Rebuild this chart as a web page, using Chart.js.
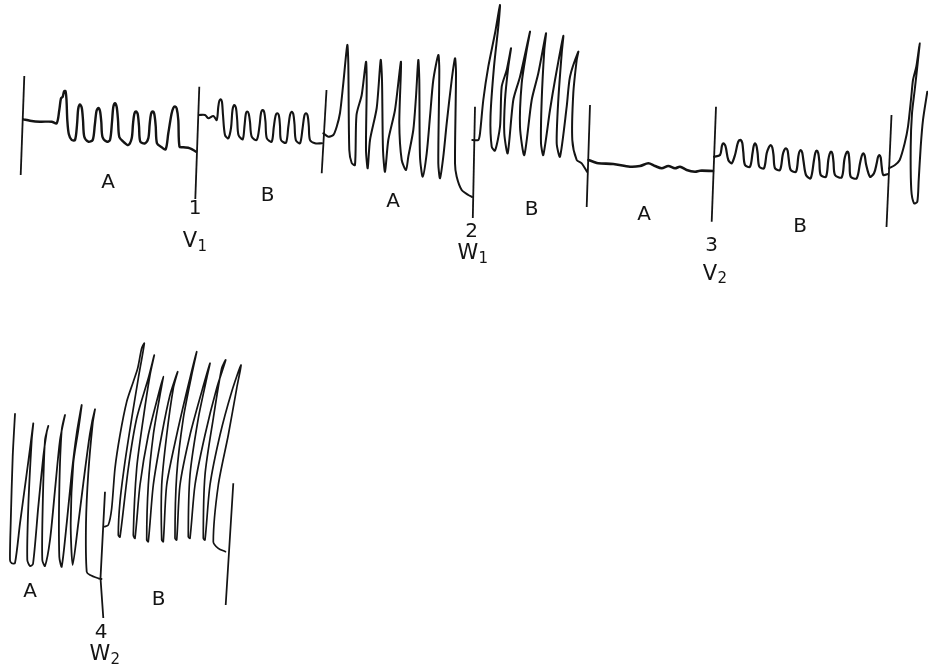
<!DOCTYPE html>
<html>
<head>
<meta charset="utf-8">
<script src="https://cdn.jsdelivr.net/npm/chart.js@4"></script>
<style>
html,body{margin:0;padding:0;background:#fff;}
canvas{display:block;}
</style>
</head>
<body>
<canvas id="c" width="928" height="667"></canvas>
<script>
// Trace readings: [time, pen position] (pen position measured downward)
const topA1 = [[23.3,119.3],[30,120.7],[40,121.7],[51.7,121.7],[56.7,123.3],[59.3,110],[61,98.3],[62.7,96.7],[64,91.5],[65.5,91],[66.5,100],[67.3,120],[68.8,134],[71.7,140],[75,140],[77,125],[78.2,109],[80,104.5],[81.8,108],[83,120],[84.3,136.7],[88.3,141.7],[92.7,140],[94.8,125],[96.5,111],[98.3,108],[100,111],[101.3,122],[102.5,137],[106.7,141.7],[110,140],[112,122],[113.3,107],[115,103.3],[116.7,107],[118,120],[119.3,137],[123.3,141.7],[128.3,145],[131.7,138.3],[133,124],[134.3,114],[136,111.5],[137.7,114],[139,126],[140.3,141.7],[145,143.3],[148.3,138.3],[149.7,124],[151,114],[152.7,111.5],[154.3,114],[155.7,126],[157,143.3],[161.7,147.3],[165.7,149.3],[168.3,133.3],[171.5,114],[173.3,108],[175,106.5],[176.7,108.5],[178.3,120],[179.5,146.7],[183.3,147.3],[190,148.3],[196,151.7]];
const topB1 = [[199,115],[205,115],[208.3,118.3],[213.3,116],[216.7,120],[218.3,106.7],[219.3,101],[220.7,99.3],[222,102],[223,115],[225,135],[228.3,138.3],[231,128],[232.5,110],[234.3,105],[236,108],[237.2,120],[238.5,135],[242.7,139.3],[244.5,126],[245.8,114],[247.3,111.5],[248.8,114],[250,122],[251.7,136.7],[256.7,140],[259.5,126],[261,113],[262.7,110],[264.3,112.5],[265.5,122],[266.8,138.3],[271.7,141.7],[273.8,127],[275.5,116],[277.3,113.3],[279,116],[280,126],[281,140],[286,142.7],[288.3,127],[290,115],[291.7,111.7],[293.3,114],[294.5,124],[295.8,140],[300,143.3],[302.5,129],[304.3,116],[306,113.3],[307.7,116],[308.8,126],[310,140],[315,143.3],[322,143.3]];
const topA2 = [[323.3,133.3],[328.3,136.7],[333.3,135],[336.7,126.7],[340,113],[343.3,83.3],[347.3,45],[348.3,63],[349.3,150],[351.7,163],[355,165],[356.5,115],[361.7,95],[366,61.7],[366.7,85],[366,150],[367.7,168.3],[370,140],[376.7,108],[380.7,60],[382,80],[383,150],[385,171.7],[388.3,140],[395,110],[401,61.7],[399.3,123.3],[401.7,160],[406,170],[408.3,156.7],[413.3,130],[416,96.7],[418.3,60],[419.3,80],[420,156.7],[422.7,176.7],[426.7,153.3],[430,116.7],[433.3,80],[438.3,55],[439.3,70],[438.3,163.3],[440,178.3],[443.3,156.7],[446.7,123.3],[451.7,80],[455,58.3],[456,73],[455,163.3],[456.7,176.7],[461.7,190],[468.3,195],[472,197]];
const topB2 = [[472.3,140],[478.3,140],[480,133.3],[483.3,100],[488.3,66.7],[495,33.3],[500,5],[498.3,26.7],[494,66.7],[490.5,116.7],[491.7,146.7],[495,150.7],[500,126.7],[501.7,86.7],[506.7,70],[511,48.3],[508.3,66.7],[505,100],[504.3,133.3],[507.7,153.3],[513.3,100],[520,76.7],[530,31.7],[526.7,50],[521.7,83.3],[520,126.7],[524.3,155],[531.7,100],[538.3,73.3],[546,33.3],[544.3,50],[541.7,100],[541,143.3],[543.3,155],[550,110],[555,80],[563.3,36],[561.7,53.3],[558.3,100],[556.7,143.3],[560,156.7],[566.7,106.7],[570,76.7],[578.3,51.7],[576.7,60],[573.3,93.3],[572.3,140],[576.7,160],[581.7,163.3],[587,171.7]];
const topA3 = [[588.5,160],[593.3,161.7],[598.3,163.3],[613.3,164],[630,166.7],[640,166],[648.3,163.3],[655,166],[661.7,168.3],[668.3,166],[675,168.3],[680,166.7],[686.7,170],[695,171.7],[700,170.7],[713,171]];
const topB3 = [[714,156.7],[720,155],[722,145.5],[723.3,143.3],[725,145],[726,148.3],[728.3,160],[731.7,163.3],[735,155],[737.5,144],[739,140.5],[740.7,140],[742.3,143],[743.3,152],[745,165],[750,166.7],[752.5,153.3],[753.7,146],[755,143.3],[756.5,146],[757.6,153],[759.3,166.7],[764,168.3],[766.7,153.3],[769,147],[770.7,145],[772.3,147.5],[773.5,155],[775,168.3],[780,170],[782.7,155],[784.3,150],[786,148.3],[787.6,150.5],[788.6,158],[790.7,170],[796,171.7],[798.3,156.7],[799.3,152],[800.7,150],[802.2,152.5],[803.5,161],[806,175],[810.7,178.3],[814,160],[815.3,153],[816.7,150.7],[818.2,153],[819.3,161],[820.7,175],[826,176.7],[828.3,160],[829.6,154],[831,151.7],[832.5,154],[833.5,162],[835,175],[841.7,177.3],[844.3,160],[845.8,154],[847.3,151.7],[848.7,154],[849.6,164],[850.7,176.7],[856.7,178.3],[860,163.3],[861.7,156],[863.3,153.3],[864.8,156],[866,164],[870,176.7],[874,173.3],[876.7,163.3],[878,157],[879.3,155],[880.7,157.5],[881.7,166.7],[883.3,175],[888,174]];
const topEnd = [[889,168.3],[895,165],[899.7,160],[904.7,143.3],[908,126.7],[911.3,96.7],[913,80],[916.3,66.7],[919.7,43.3],[917.3,66.7],[914.7,90],[912,113.3],[910.7,146.7],[911.3,190],[914,203.3],[917.3,201.7],[918.7,180],[920.7,146.7],[923,120],[927.3,91.7]];
const botA = [[15,414],[12.7,456.7],[10.7,523.3],[10,560],[11.7,563.3],[15,563],[20,523.3],[26.3,476.7],[30.7,443.3],[33.3,423.3],[31.7,440],[28.3,506.7],[27.3,560],[30,566],[33,564],[38.3,506.7],[43.3,456.7],[46.7,432],[48.3,426],[45,440],[42.7,506.7],[42.3,560],[45,566],[50,540],[55,490],[60,440],[65,415],[61.7,430],[59.3,490],[59.3,556.7],[61.7,566.7],[66.7,523.3],[71.7,473.3],[76.7,433.3],[81.7,405],[78.3,430],[73.3,463.3],[70.7,523.3],[72.7,565],[78.3,523.3],[83.3,483.3],[90,433.3],[95,409.3],[92.7,423.3],[88.3,473.3],[86,523.3],[86.7,571.7],[90,575],[98.3,578.3],[101.5,579]];
const botB = [[104.3,526.7],[108.3,525],[111.7,508.3],[115,468.3],[120,435],[126.7,401.7],[133.3,381.7],[137.7,368.3],[141.7,348.3],[144.3,343.3],[138.3,378.3],[131.7,418.3],[125,461.7],[120,501.7],[118.3,535],[120,537],[128.3,468.3],[136.7,418.3],[148.3,378.3],[154.3,355],[150,375],[143.3,418.3],[136.7,468.3],[133.3,535],[135,538.3],[140,485],[148.3,435],[158.3,395],[163.3,376.7],[160,395],[153.3,435],[148.3,485],[146.7,540],[148.3,541.7],[153.3,485],[161.7,435],[170,395],[177.7,371.7],[173.3,388.3],[166.7,435],[161.7,485],[161.7,540],[163.3,541.7],[166.7,485],[176.7,435],[188.3,385],[196.7,351.7],[191.7,375],[183.3,418.3],[176.7,475],[175,538.3],[176.7,540],[180,485],[190,435],[201.7,391.7],[210,363.3],[206.7,378.3],[198.3,418.3],[190,475],[188.3,536.7],[190,538.3],[195,485],[205,435],[216.7,388.3],[225.7,360],[221.7,368.3],[213.3,418.3],[205,475],[203.3,538.3],[205,540],[210,485],[220,435],[231.7,391.7],[241,365],[236.7,388.3],[228.3,435],[218.3,485],[213.3,541.7],[218.3,548.3],[225.5,551.7]];

// Injection / section markers (vertical strokes)
const markers = [
  [[24.3,76],[20.7,175]],
  [[199.3,86.7],[195.3,199]],
  [[326.5,90],[321.7,173.3]],
  [[475,106.7],[472.8,218]],
  [[590,105],[586.7,207]],
  [[716,106.7],[711.7,221.7]],
  [[891.5,115],[886.5,227]],
  [[105,491.7],[100.5,578],[103.3,618]],
  [[233.3,483.3],[225.7,605]]
];

// Text labels
const sectionLabels = ['A','B','A','B','A','B','A','B'];
const sectionLabelX = [108,267.5,393,531.5,644,800,30,158.5];
const sectionLabelY = [183,195.5,202,210,215,226.5,591.5,600];
const markerNumbers = ['1','2','3','4'];
const markerNumberX = [195,471.5,711.7,101];
const markerNumberY = [209,232,245.8,633];
const drugLetters = ['V','W','V','W'];
const drugSubs = ['1','1','2','2'];
const drugLabelX = [190,468,710,100];
const drugLabelY = [242,254,274.5,655];

const ink = '#141414';
const traces = [
  {d: topA1, w: 2.4, t: 0.3}, {d: topB1, w: 2.1, t: 0.3}, {d: topA2, w: 2.0, t: 0.25}, {d: topB2, w: 2.0, t: 0.25},
  {d: topA3, w: 2.6, t: 0.3}, {d: topB3, w: 2.2, t: 0.3}, {d: topEnd, w: 2.0, t: 0.25},
  {d: botA, w: 1.8, t: 0.25}, {d: botB, w: 1.7, t: 0.25}
];
const datasets = traces.map(tr => ({
  data: tr.d.map(p => ({x: p[0], y: p[1]})),
  showLine: true, borderColor: ink, borderWidth: tr.w, pointRadius: 0,
  tension: tr.t, borderCapStyle: 'round', borderJoinStyle: 'round', fill: false
}));
markers.forEach(m => datasets.push({
  data: m.map(p => ({x: p[0], y: p[1]})),
  showLine: true, borderColor: ink, borderWidth: 1.8, pointRadius: 0, tension: 0, fill: false
}));

const labelPlugin = {
  id: 'traceLabels',
  afterDatasetsDraw(chart) {
    const {ctx, scales} = chart;
    const sx = scales.x, sy = scales.y;
    ctx.save();
    ctx.fillStyle = ink;
    ctx.textAlign = 'center';
    ctx.textBaseline = 'middle';
    ctx.font = '20px "DejaVu Sans", sans-serif';
    sectionLabels.forEach((t, i) => ctx.fillText(t, sx.getPixelForValue(sectionLabelX[i]), sy.getPixelForValue(sectionLabelY[i])));
    ctx.font = '20px "DejaVu Sans", sans-serif';
    markerNumbers.forEach((t, i) => ctx.fillText(t, sx.getPixelForValue(markerNumberX[i]), sy.getPixelForValue(markerNumberY[i])));
    drugLetters.forEach((t, i) => {
      const px = sx.getPixelForValue(drugLabelX[i]);
      const py = sy.getPixelForValue(drugLabelY[i]);
      ctx.font = '21px "DejaVu Sans", sans-serif';
      ctx.fillText(t, px, py);
      const w = ctx.measureText(t).width;
      ctx.font = '15px "DejaVu Sans", sans-serif';
      ctx.fillText(drugSubs[i], px + w / 2 + 5, py + 5);
    });
    ctx.restore();
  }
};

new Chart(document.getElementById('c'), {
  type: 'scatter',
  data: {datasets},
  options: {
    responsive: false,
    animation: false,
    layout: {padding: 0},
    plugins: {legend: {display: false}, tooltip: {enabled: false}, title: {display: false}},
    scales: {
      x: {type: 'linear', min: 0, max: 928, display: false},
      y: {type: 'linear', min: 0, max: 667, reverse: true, display: false}
    },
    events: []
  },
  plugins: [labelPlugin]
});
</script>
</body>
</html>
